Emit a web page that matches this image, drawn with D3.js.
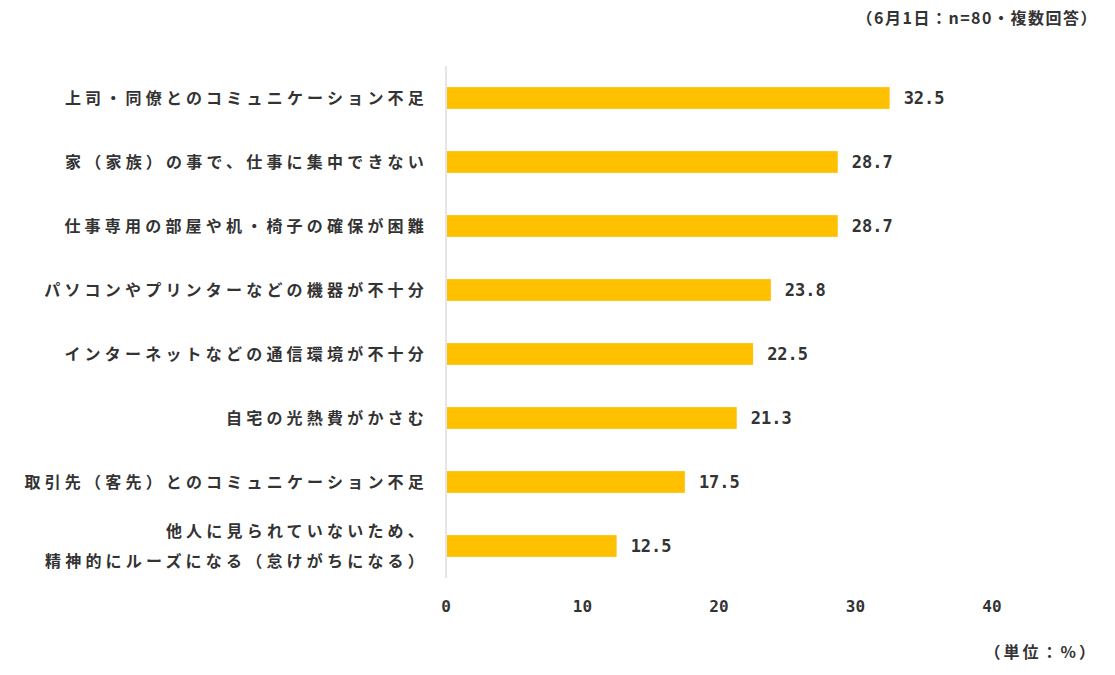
<!DOCTYPE html>
<html><head><meta charset="utf-8">
<script src="https://cdn.jsdelivr.net/npm/d3@7"></script>
<style>body{margin:0;background:#fff}text{font-family:"Noto Sans CJK JP",sans-serif;font-weight:bold;fill:#333}.num{font-family:"DejaVu Sans Mono",monospace}</style>
</head><body><svg id="c" width="1115" height="675"></svg>
<script>
const categories=[["上司・同僚とのコミュニケーション不足"],["家（家族）の事で、仕事に集中できない"],["仕事専用の部屋や机・椅子の確保が困難"],["パソコンやプリンターなどの機器が不十分"],["インターネットなどの通信環境が不十分"],["自宅の光熱費がかさむ"],["取引先（客先）とのコミュニケーション不足"],["他人に見られていないため、","精神的にルーズになる（怠けがちになる）"]];
const values=[32.5,28.7,28.7,23.8,22.5,21.3,17.5,12.5];
const ticks=[0,10,20,30,40];
const svg=d3.select("#c");
const x=d3.scaleLinear().domain([0,40]).range([446,992]);
const y=d3.scaleBand().domain(d3.range(values.length)).range([66,578]).paddingInner(0.66).paddingOuter(0.33);
svg.append("line").attr("x1",446).attr("x2",446).attr("y1",66).attr("y2",578).attr("stroke","#ccc");
svg.selectAll("rect").data(values).join("rect").attr("x",x(0)+1).attr("y",(d,i)=>y(i)).attr("height",y.bandwidth()).attr("width",d=>x(d)-x(0)-1).attr("fill","#FFC000");
svg.selectAll(".v").data(values).join("text").attr("class","num").attr("x",d=>x(d)+14).attr("y",(d,i)=>y(i)+y.bandwidth()/2).attr("dy","0.35em").attr("font-size",17).text(d=>d.toFixed(1));
categories.forEach((c,i)=>{const cy=y(i)+y.bandwidth()/2;c.forEach((l,j)=>{svg.append("text").attr("x",428).attr("y",cy+(j-(c.length-1)/2)*30).attr("dy","0.35em").attr("text-anchor","end").attr("font-size",16).attr("letter-spacing",4.2).text(l);});});
svg.selectAll(".t").data(ticks).join("text").attr("class","num").attr("x",d=>x(d)).attr("y",606).attr("dy","0.35em").attr("text-anchor","middle").attr("font-size",16).text(d=>d);
svg.append("text").attr("x",1098).attr("y",18).attr("dy","0.35em").attr("text-anchor","end").attr("font-size",16).attr("letter-spacing",1.5).text("（6月1日：n=80・複数回答）");
svg.append("text").attr("x",1098).attr("y",652).attr("dy","0.35em").attr("text-anchor","end").attr("font-size",16).attr("letter-spacing",3).text("（単位：%）");
</script></body></html>
